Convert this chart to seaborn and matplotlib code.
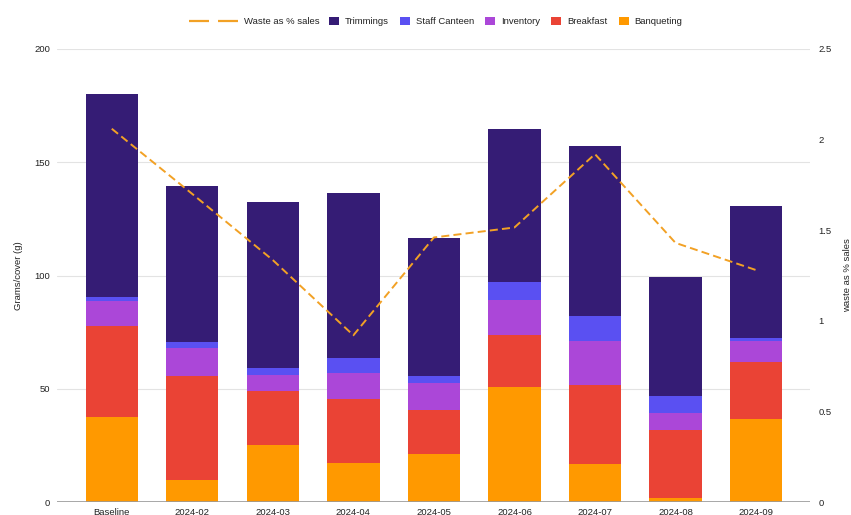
import numpy as np
import pandas as pd
import matplotlib
matplotlib.use("Agg")
import matplotlib.pyplot as plt
from matplotlib.lines import Line2D
from matplotlib.patches import Patch
import seaborn as sns

categories = ["Baseline", "2024-02", "2024-03", "2024-04", "2024-05",
              "2024-06", "2024-07", "2024-08", "2024-09"]
banqueting = [37.5, 9.7, 25.2, 17.2, 21.3, 50.8, 16.8, 1.6, 36.8]
breakfast = [40.2, 46.1, 23.8, 28.1, 19.2, 22.8, 34.7, 30.3, 24.9]
inventory = [11.0, 12.3, 6.9, 11.7, 12.0, 15.6, 19.6, 7.3, 9.5]
staff_canteen = [1.9, 2.4, 3.3, 6.7, 3.1, 8.1, 11.2, 7.6, 1.1]
trimmings = [89.5, 69.0, 73.3, 72.7, 61.0, 67.4, 74.9, 52.5, 58.4]
waste_pct = [2.06, 1.70, 1.335, 0.92, 1.46, 1.515, 1.92, 1.43, 1.28]

series_names = ["Banqueting", "Breakfast", "Inventory", "Staff Canteen", "Trimmings"]
series_vals = [banqueting, breakfast, inventory, staff_canteen, trimmings]
colors = {"Banqueting": "#ff9900", "Breakfast": "#ea4335", "Inventory": "#ab47d8",
          "Staff Canteen": "#5a50f2", "Trimmings": "#351c75"}
line_color = "#f2a125"
text_color = "#222222"
FS = 6.8

sns.set_theme(style="white")
plt.rcParams["font.family"] = ["Liberation Sans", "DejaVu Sans"]
plt.rcParams["lines.scale_dashes"] = False

fig = plt.figure(figsize=(8.51, 5.15), dpi=100)
ax = fig.add_axes([57 / 851, 13 / 515, (810 - 57) / 851, (502 - 49) / 515])

cum = np.zeros(len(categories))
cums = []
for name, vals in zip(series_names, series_vals):
    cum = cum + np.array(vals)
    cums.append((name, cum.copy()))

for name, c in reversed(cums):
    d = pd.DataFrame({"cat": categories, "val": c})
    sns.barplot(data=d, x="cat", y="val", color=colors[name], width=0.65,
                saturation=1, ax=ax, zorder=2, edgecolor="none", linewidth=0)

ax.set_xlim(-0.68, 8.67)
ax.set_ylim(0, 200)
ax.set_yticks([0, 50, 100, 150, 200])
ax.set_yticklabels(["0", "50", "100", "150", "200"])
ax.grid(axis="y", color="#e3e3e3", linewidth=0.8, zorder=0)
ax.set_axisbelow(True)
for s in ax.spines.values():
    s.set_visible(False)
ax.axhline(0, color="#999999", linewidth=1.2, zorder=3)
ax.tick_params(axis="both", length=0, labelsize=FS, colors=text_color)
ax.tick_params(axis="y", pad=5)
ax.tick_params(axis="x", pad=4)
ax.set_xlabel("")
ax.set_ylabel("Grams/cover (g)", fontsize=FS, color=text_color, labelpad=8)

ax2 = ax.twinx()
sns.lineplot(x=np.arange(len(categories)), y=waste_pct, ax=ax2, color=line_color,
             linewidth=1.4, zorder=5)
ax2.lines[0].set_dashes([5.8, 3.0])
ax2.set_ylim(0, 2.5)
ax2.set_yticks([0, 0.5, 1, 1.5, 2, 2.5])
ax2.set_yticklabels(["0", "0.5", "1", "1.5", "2", "2.5"])
ax2.tick_params(axis="y", length=0, labelsize=FS, colors=text_color, pad=6)
for s in ax2.spines.values():
    s.set_visible(False)
ax2.grid(False)
ax2.set_ylabel("waste as % sales", fontsize=FS, color=text_color, rotation=90)
ax2.yaxis.set_label_coords((843 - 57) / (810 - 57), 0.5)
ax.set_xlim(-0.68, 8.67)

fs_px = FS * 100 / 72.0
leg_y = 1 - 21.5 / 515

# line legend entry
h_line = Line2D([0], [0], color=line_color, linewidth=1.6, dashes=[14.4, 6.5])
leg1 = fig.legend([h_line], ["Waste as % sales"], loc="center left",
                  bbox_to_anchor=(189 / 851, leg_y), frameon=False, fontsize=FS,
                  borderpad=0, borderaxespad=0, handlelength=49 / fs_px,
                  handletextpad=6 / fs_px, labelcolor=text_color)

# patch legend entries
names = ["Trimmings", "Staff Canteen", "Inventory", "Breakfast", "Banqueting"]
handles = [Patch(facecolor=colors[n], edgecolor="none") for n in names]
leg2 = fig.legend(handles, names, loc="center left", bbox_to_anchor=(329 / 851, leg_y),
                  ncol=5, frameon=False, fontsize=FS, borderpad=0, borderaxespad=0,
                  handlelength=10 / fs_px, handleheight=9 / fs_px,
                  handletextpad=6 / fs_px, columnspacing=11 / fs_px,
                  labelcolor=text_color)

fig.savefig("out.png", dpi=100)
